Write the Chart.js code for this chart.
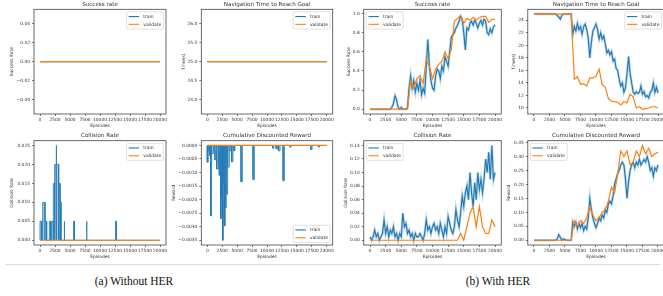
<!DOCTYPE html>
<html>
<head>
<meta charset="utf-8">
<title>Without HER / With HER</title>
<script src="https://cdn.jsdelivr.net/npm/chart.js@4.4.1/dist/chart.umd.min.js"></script>
<style>
  html, body { margin: 0; padding: 0; background: #fff; }
  #page { position: relative; width: 663px; height: 296px; overflow: hidden; }
  #page canvas { position: absolute; }
  .rule { position: absolute; left: 5px; top: 264px; width: 655px; height: 1px; background: #dcdcdc; }
  .caption {
    position: absolute; top: 275px; transform: translateX(-50%); white-space: nowrap;
    font-family: "Liberation Serif", serif; font-size: 11.5px; color: #111;
  }
</style>
</head>
<body>
<div id="page">
  <div class="rule"></div>
  <div class="caption" style="left:134px">(a) Without HER</div>
  <div class="caption" style="left:498px">(b) With HER</div>
</div>
<script>
/**
 * Episode grids and tick values.
 */
const flatEpisodes = [0, 20000];
const trainEpisodes = [
    0, 250, 500, 750, 1000, 1250, 1500, 1750, 2000, 2250,
    2500, 2750, 3000, 3250, 3500, 3750, 4000, 4250, 4500, 4750,
    5000, 5250, 5500, 5750, 6000, 6250, 6500, 6750, 7000, 7250,
    7500, 7750, 8000, 8250, 8500, 8750, 9000, 9250, 9500, 9750,
    10000, 10250, 10500, 10750, 11000, 11250, 11500, 11750, 12000, 12250,
    12500, 12750, 13000, 13250, 13500, 13750, 14000, 14250, 14500, 14750,
    15000, 15250, 15500, 15750, 16000, 16250, 16500, 16750, 17000, 17250,
    17500, 17750, 18000, 18250, 18500, 18750, 19000, 19250, 19500, 19750,
    20000
];
const validateEpisodes = [
    0, 500, 1000, 1500, 2000, 2500, 3000, 3500, 4000, 4500,
    5000, 5500, 6000, 6500, 7000, 7500, 8000, 8500, 9000, 9500,
    10000, 10500, 11000, 11500, 12000, 12500, 13000, 13500, 14000, 14500,
    15000, 15500, 16000, 16500, 17000, 17500, 18000, 18500, 19000, 19500,
    20000
];
const episodeTicks = [0, 2500, 5000, 7500, 10000, 12500, 15000, 17500, 20000];

/**
 * (a) Without HER.
 */
const noHerSuccessTrain = [0, 0];
const noHerSuccessValidate = [0, 0];
const noHerTimeTrain = [25, 25];
const noHerTimeValidate = [25, 25];
const noHerCollisionValidate = [0, 0];
const noHerRewardValidate = [0, 0];

// Train collision rate: short bursts (start episode, end episode, value)
const noHerCollisionStart = [0, 445, 835, 1555, 1945, 2220, 2445, 2670, 2780, 3110, 3335, 4000, 5610, 7720, 12610];
const noHerCollisionEnd = [280, 835, 1110, 1780, 2220, 2445, 2670, 2780, 3110, 3335, 3500, 4110, 5720, 7830, 12720];
const noHerCollisionValue = [0.005, 0.01, 0.005, 0.005, 0.005, 0.015, 0.02, 0.025, 0.02, 0.015, 0.01, 0.005, 0.005, 0.005, 0.005];

// Train reward: short dips (start episode, end episode, value)
const noHerRewardStart = [
    0, 168, 391, 559, 727, 1062, 1286, 1565, 1845, 2012,
    2236, 2404, 2571, 2683, 2851, 3019, 3186, 3410, 3689, 4081,
    4472, 5646, 7658, 10956, 11515, 11907, 12689, 13863, 17329, 18615
];
const noHerRewardEnd = [
    168, 391, 559, 727, 1062, 1286, 1565, 1845, 2012, 2236,
    2404, 2571, 2683, 2851, 3019, 3186, 3410, 3689, 3969, 4304,
    4640, 5870, 7882, 11124, 11739, 12186, 12913, 14031, 17553, 18782
];
const noHerRewardValue = [
    -0.00062, -0.00019, -0.00037, -0.0026, -0.0003, -0.0002, -0.00053, -0.00087, -0.00074, -0.0011,
    -0.0027, -0.0019, -0.0035, -0.0014, -0.00297, -0.00229, -0.0018, -0.0008, -0.0002, -0.0006,
    -0.0002, -0.00134, -0.00126, -0.0001, -0.00012, -0.0002, -0.0013, -0.00006, -0.00015, -0.00006
];

/**
 * (b) With HER.
 */
const herSuccessTrain = [
    0, 0, 0, 0, 0, 0, 0, 0, 0, 0,
    0, 0, 0, 0, 0.02, 0.06, 0.14, 0.1, 0.02, 0,
    0.02, 0, 0, 0, 0.02, 0.22, 0.35, 0.22, 0.3, 0.18,
    0.27, 0.2, 0.3, 0.15, 0.22, 0.17, 0.45, 0.73, 0.45, 0.3,
    0.22, 0.2, 0.35, 0.42, 0.4, 0.32, 0.45, 0.4, 0.55, 0.5,
    0.45, 0.6, 0.75, 0.78, 0.8, 0.85, 0.88, 0.92, 0.97, 0.94,
    0.8, 0.62, 0.85, 0.83, 0.9, 0.92, 0.88, 0.93, 0.9, 0.85,
    0.9, 0.93, 0.88, 0.94, 0.92, 0.8, 0.78, 0.84, 0.8, 0.86,
    0.88
];
const herSuccessValidate = [
    0, 0, 0, 0, 0, 0, 0, 0, 0, 0,
    0, 0, 0, 0.3, 0.22, 0.32, 0.35, 0.27, 0.52, 0.45,
    0.32, 0.42, 0.47, 0.5, 0.6, 0.53, 0.62, 0.92, 0.95, 0.98,
    0.9, 0.95, 0.93, 0.96, 0.93, 0.96, 0.97, 0.97, 0.91, 0.94,
    0.94
];
const herTimeTrain = [
    25, 25, 25, 25, 25, 25, 25, 25, 25, 25,
    25, 25, 25, 25, 25, 24.8, 24.5, 24.2, 24.8, 25,
    25, 25, 25, 25, 25, 21.7, 23, 22.3, 23.5, 22.5,
    23, 21.8, 23, 23.4, 22.5, 21.2, 18, 20.5, 22.3, 22.8,
    23.4, 22.5, 21, 22, 21, 21.5, 20.2, 18.8, 19.2, 18.5,
    19, 17.5, 17.8, 16.3, 16, 14.5, 13.5, 14, 12.5, 13.2,
    15.5, 18.2, 15.5, 14, 12.5, 12.2, 12.6, 12.3, 12.5, 13.5,
    12.2, 12.6, 11.8, 12, 11.6, 12.5, 12.8, 14, 12.5, 13.3,
    12.4
];
const herTimeValidate = [
    25, 25, 25, 25, 25, 25, 25, 25, 25, 25,
    25, 25, 25, 14.6, 15.0, 13.8, 13.9, 13.5, 14.8, 14.8,
    15.1, 16.2, 13.7, 13.3, 11.5, 11.1, 11.0, 10.9, 10.5, 11.0,
    10.8, 12.2, 11.8, 10.0, 10.2, 9.8, 9.9, 10.0, 10.2, 10.2,
    10.0
];
const herCollisionTrain = [
    0.005, 0, 0.005, 0.015, 0.005, 0.01, 0, 0.005, 0.01, 0.03,
    0.01, 0.02, 0.005, 0.015, 0.01, 0.02, 0.005, 0.01, 0, 0.01,
    0.005, 0.04, 0.02, 0.025, 0.01, 0.015, 0.005, 0.01, 0, 0.01,
    0.005, 0.005, 0.01, 0.005, 0, 0.01, 0.03, 0.015, 0.02, 0.01,
    0.02, 0.025, 0.015, 0.02, 0.01, 0.025, 0.015, 0.005, 0.02, 0.01,
    0.035, 0.025, 0.015, 0.01, 0.02, 0.045, 0.03, 0.02, 0.04, 0.065,
    0.05, 0.07, 0.08, 0.06, 0.1, 0.07, 0.05, 0.085, 0.06, 0.1,
    0.075, 0.09, 0.07, 0.09, 0.12, 0.1, 0.13, 0.09, 0.14, 0.09,
    0.1
];
const herCollisionValidate = [
    0, 0, 0, 0, 0, 0, 0, 0, 0, 0,
    0, 0, 0, 0, 0, 0, 0, 0, 0, 0,
    0, 0, 0, 0, 0, 0, 0, 0, 0, 0.01,
    0, 0.02, 0.04, 0.05, 0.02, 0.05, 0.02, 0.01, 0.01, 0.03,
    0.02
];
const herRewardTrain = [
    0, 0, 0, 0, 0, 0, 0, 0, 0, 0,
    0, 0, 0, 0, 0, 0.005, 0.02, 0.01, 0, 0.005,
    0.003, 0, 0, 0, 0, 0.065, 0.05, 0.065, 0.04, 0.06,
    0.045, 0.06, 0.035, 0.05, 0.04, 0.08, 0.15, 0.11, 0.08, 0.06,
    0.045, 0.06, 0.08, 0.07, 0.09, 0.08, 0.11, 0.1, 0.13, 0.14,
    0.13, 0.16, 0.2, 0.22, 0.24, 0.25, 0.27, 0.28, 0.27, 0.22,
    0.15, 0.21, 0.25, 0.27, 0.28, 0.26, 0.28, 0.27, 0.29, 0.27,
    0.28, 0.29, 0.28, 0.3, 0.28, 0.25, 0.26, 0.23, 0.26, 0.25,
    0.27
];
const herRewardValidate = [
    0, 0, 0, 0, 0, 0, 0, 0, 0, 0,
    0, 0, 0, 0.07, 0.05, 0.07, 0.06, 0.08, 0.12, 0.09,
    0.07, 0.08, 0.1, 0.11, 0.14, 0.19, 0.17, 0.24, 0.32, 0.3,
    0.32, 0.27, 0.28, 0.32, 0.3, 0.34, 0.31, 0.33, 0.3, 0.31,
    0.315
];

/**
 * Y tick values.
 */
const noHerSuccessTicks = [-0.04, -0.02, 0, 0.02, 0.04];
const noHerTimeTicks = [24, 24.5, 25, 25.5, 26];
const noHerCollisionTicks = [0, 0.005, 0.01, 0.015, 0.02, 0.025];
const noHerRewardTicks = [0, -0.0005, -0.001, -0.0015, -0.002, -0.0025, -0.003, -0.0035];
const herSuccessTicks = [0, 0.2, 0.4, 0.6, 0.8, 1.0];
const herTimeTicks = [10, 12, 14, 16, 18, 20, 22, 24];
const herCollisionTicks = [0, 0.02, 0.04, 0.06, 0.08, 0.1, 0.12, 0.14];
const herRewardTicks = [0, 0.05, 0.1, 0.15, 0.2, 0.25, 0.3, 0.35];

/**
 * Look.
 */
const TRAIN_COLOR = '#1f77b4';
const TRAIN_BAND = 'rgba(31, 119, 180, 0.3)';
const TRAIN_FILL = 'rgba(31, 119, 180, 0.38)';
const VALIDATE_COLOR = '#ff7f0e';
const TEXT_COLOR = '#333';
const SPINE_COLOR = '#444';
const FONT_FAMILY = '"DejaVu Sans", sans-serif';
const TITLE_SIZE = 5.6;
const AXIS_SIZE = 4.4;
const TICK_SIZE = 4.4;
const LEGEND_SIZE = 4.5;
const TITLE_BLOCK = 10;
const X_SCALE_H = 15;
const X_TITLE_GAP = 11.8;
const RIGHT_PAD = 9;

function points(xs, ys) {
    return xs.map((x, i) => ({x: x, y: ys[i]}));
}

/**
 * Turn bursts into a line that goes up and back down to zero.
 */
function burstPoints(starts, ends, values) {
    const out = [{x: 0, y: 0}];
    starts.forEach((s, i) => {
        out.push({x: s, y: 0}, {x: s, y: values[i]}, {x: ends[i], y: values[i]}, {x: ends[i], y: 0});
    });
    out.push({x: 20000, y: 0});
    return out;
}

/**
 * Full axes box drawn over the lines, like matplotlib spines.
 */
const spinesPlugin = {
    id: 'spines',
    afterDatasetsDraw(chart) {
        const {ctx, chartArea: a} = chart;
        ctx.save();
        ctx.strokeStyle = SPINE_COLOR;
        ctx.lineWidth = 0.8;
        ctx.strokeRect(a.left, a.top, a.right - a.left, a.bottom - a.top);
        ctx.restore();
    }
};

/**
 * Legend drawn inside the axes.
 */
const innerLegendPlugin = {
    id: 'innerLegend',
    afterDraw(chart, args, opts) {
        const {ctx, chartArea: a} = chart;
        const items = chart.data.datasets.filter(d => d.label);
        const em = 5.2;
        const pad = 0.4 * em, handle = 2 * em, gap = 0.8 * em, spacing = 0.5 * em, inset = 0.5 * em;
        const rowH = LEGEND_SIZE * 1.15;
        ctx.save();
        ctx.font = `${LEGEND_SIZE}px ${FONT_FAMILY}`;
        const textW = Math.max(...items.map(d => ctx.measureText(d.label).width));
        const w = pad * 2 + handle + gap + textW;
        const h = pad * 2 + items.length * rowH + (items.length - 1) * spacing;
        const x = opts.corner.includes('right') ? a.right - inset - w : a.left + inset;
        const y = opts.corner.includes('lower') ? a.bottom - inset - h : a.top + inset;
        ctx.beginPath();
        ctx.roundRect(x, y, w, h, 1);
        ctx.fillStyle = 'rgba(255, 255, 255, 0.8)';
        ctx.fill();
        ctx.strokeStyle = '#cccccc';
        ctx.lineWidth = 0.6;
        ctx.stroke();
        items.forEach((d, i) => {
            const cy = y + pad + i * (rowH + spacing) + rowH / 2;
            ctx.beginPath();
            ctx.moveTo(x + pad, cy);
            ctx.lineTo(x + pad + handle, cy);
            ctx.strokeStyle = d.borderColor;
            ctx.lineWidth = 1.1;
            ctx.stroke();
            ctx.fillStyle = TEXT_COLOR;
            ctx.textBaseline = 'middle';
            ctx.textAlign = 'left';
            ctx.fillText(d.label, x + pad + handle + gap, cy);
        });
        ctx.restore();
    }
};

/**
 * The eight panels.
 */
const panels = [
    {
        box: [34, 9.3, 132, 104.7], titleGap: 4.8, yTitleGap: 22,
        title: 'Success rate', yTitle: 'Success Rate',
        yRange: [-0.055, 0.055], yTicks: noHerSuccessTicks, decimals: 2, legend: 'upper right',
        train: points(flatEpisodes, noHerSuccessTrain), validate: points(flatEpisodes, noHerSuccessValidate), trainStyle: 'plain'
    },
    {
        box: [201.3, 9.3, 131.4, 104.7], titleGap: 4.8, yTitleGap: 17.7,
        title: 'Navigation Time to Reach Goal', yTitle: 'Time(s)',
        yRange: [23.625, 26.375], yTicks: noHerTimeTicks, decimals: 1, legend: 'upper right',
        train: points(flatEpisodes, noHerTimeTrain), validate: points(flatEpisodes, noHerTimeValidate), trainStyle: 'plain'
    },
    {
        box: [363.75, 9.3, 137.5, 104.7], titleGap: 4.8, yTitleGap: 15.2,
        title: 'Success rate', yTitle: 'Success Rate',
        yRange: [-0.05, 1.045], yTicks: herSuccessTicks, decimals: 1, legend: 'upper left',
        train: points(trainEpisodes, herSuccessTrain), validate: points(validateEpisodes, herSuccessValidate), trainStyle: 'band'
    },
    {
        box: [527.8, 9.3, 136.4, 104.7], titleGap: 4.8, yTitleGap: 14.2,
        title: 'Navigation Time to Reach Goal', yTitle: 'Time(s)',
        yRange: [9.04, 25.76], yTicks: herTimeTicks, decimals: 0, legend: 'upper right',
        train: points(trainEpisodes, herTimeTrain), validate: points(validateEpisodes, herTimeValidate), trainStyle: 'band'
    },
    {
        box: [34, 140.7, 132, 104.3], titleGap: 5.6, yTitleGap: 22,
        title: 'Collision Rate', yTitle: 'Collision Rate',
        yRange: [-0.00125, 0.02625], yTicks: noHerCollisionTicks, decimals: 3, legend: 'upper right',
        train: burstPoints(noHerCollisionStart, noHerCollisionEnd, noHerCollisionValue),
        validate: points(flatEpisodes, noHerCollisionValidate), trainStyle: 'fill'
    },
    {
        box: [201.3, 140.7, 131.4, 104.3], titleGap: 5.6, yTitleGap: 27.7,
        title: 'Cumulative Discounted Reward', yTitle: 'Reward',
        yRange: [-0.003675, 0.000175], yTicks: noHerRewardTicks, decimals: 4, legend: 'lower right',
        train: burstPoints(noHerRewardStart, noHerRewardEnd, noHerRewardValue),
        validate: points(flatEpisodes, noHerRewardValidate), trainStyle: 'fill'
    },
    {
        box: [363.75, 140.7, 137.5, 104.3], titleGap: 5.6, yTitleGap: 17.8,
        title: 'Collision Rate', yTitle: 'Collision Rate',
        yRange: [-0.007, 0.147], yTicks: herCollisionTicks, decimals: 2, legend: 'upper left',
        train: points(trainEpisodes, herCollisionTrain), validate: points(validateEpisodes, herCollisionValidate), trainStyle: 'band'
    },
    {
        box: [527.8, 140.7, 136.4, 104.3], titleGap: 5.6, yTitleGap: 18.5,
        title: 'Cumulative Discounted Reward', yTitle: 'Reward',
        yRange: [-0.017, 0.357], yTicks: herRewardTicks, decimals: 2, legend: 'upper left',
        train: points(trainEpisodes, herRewardTrain), validate: points(validateEpisodes, herRewardValidate), trainStyle: 'band'
    }
];

function buildDatasets(panel) {
    const train = {
        label: 'train', data: panel.train, borderColor: TRAIN_COLOR,
        borderWidth: panel.trainStyle === 'fill' ? 0.8 : 1.1, pointRadius: 0, order: 1,
        fill: panel.trainStyle === 'fill' ? 'origin' : false,
        backgroundColor: TRAIN_FILL
    };
    const validate = {
        label: 'validate', data: panel.validate, borderColor: VALIDATE_COLOR,
        borderWidth: 1.2, pointRadius: 0, order: 0
    };
    const datasets = [train, validate];
    if (panel.trainStyle === 'band') {
        datasets.push({
            data: panel.train, borderColor: TRAIN_BAND, borderWidth: 2.6, pointRadius: 0, order: 2
        });
    }
    return datasets;
}

function buildChart(panel) {
    const [bx, by, bw, bh] = panel.box;
    const axisLine = AXIS_SIZE * 1.2;
    const titleLine = TITLE_SIZE * 1.2;
    const scaleW = panel.yTitleGap + axisLine / 2;
    const rawLeft = bx - scaleW;
    const rawTop = by - TITLE_BLOCK;
    const left = Math.floor(rawLeft);
    const top = Math.floor(rawTop);
    const padLeft = rawLeft - left;
    const padTop = rawTop - top;
    const width = Math.ceil(padLeft + scaleW + bw + RIGHT_PAD);
    const height = Math.ceil(padTop + TITLE_BLOCK + bh + X_SCALE_H);

    const canvas = document.createElement('canvas');
    canvas.width = width;
    canvas.height = height;
    canvas.style.left = left + 'px';
    canvas.style.top = top + 'px';
    canvas.style.width = width + 'px';
    canvas.style.height = height + 'px';
    document.getElementById('page').appendChild(canvas);

    const tickFont = {family: FONT_FAMILY, size: TICK_SIZE};
    const axisFont = {family: FONT_FAMILY, size: AXIS_SIZE};
    const grid = {drawOnChartArea: false, drawTicks: true, tickLength: 2, color: SPINE_COLOR, lineWidth: 0.7};

    return new Chart(canvas.getContext('2d'), {
        type: 'line',
        data: {datasets: buildDatasets(panel)},
        plugins: [spinesPlugin, innerLegendPlugin],
        options: {
            responsive: false,
            animation: false,
            devicePixelRatio: 1,
            layout: {
                padding: {
                    left: padLeft,
                    top: padTop,
                    right: width - padLeft - scaleW - bw,
                    bottom: height - padTop - TITLE_BLOCK - bh - X_SCALE_H
                }
            },
            elements: {line: {tension: 0}},
            plugins: {
                legend: {display: false},
                tooltip: {enabled: false},
                title: {
                    display: true, text: panel.title, fullSize: false, color: TEXT_COLOR,
                    font: {family: FONT_FAMILY, size: TITLE_SIZE, weight: 'normal'},
                    padding: {top: TITLE_BLOCK - panel.titleGap - titleLine / 2, bottom: panel.titleGap - titleLine / 2}
                },
                innerLegend: {corner: panel.legend}
            },
            scales: {
                x: {
                    type: 'linear', min: -1000, max: 21000,
                    afterBuildTicks: scale => { scale.ticks = episodeTicks.map(v => ({value: v})); },
                    afterFit: scale => { scale.height = X_SCALE_H; },
                    ticks: {
                        autoSkip: false, maxRotation: 0, minRotation: 0, padding: 1,
                        font: tickFont, color: TEXT_COLOR, callback: v => String(v)
                    },
                    grid: grid,
                    border: {display: false},
                    title: {
                        display: true, text: 'Episodes', font: axisFont, color: TEXT_COLOR,
                        padding: {top: 0, bottom: X_SCALE_H - X_TITLE_GAP - axisLine / 2}
                    }
                },
                y: {
                    type: 'linear', min: panel.yRange[0], max: panel.yRange[1],
                    afterBuildTicks: scale => { scale.ticks = panel.yTicks.map(v => ({value: v})); },
                    afterFit: scale => { scale.width = scaleW; },
                    ticks: {
                        autoSkip: false, padding: 2, font: tickFont, color: TEXT_COLOR,
                        callback: v => v.toFixed(panel.decimals).replace('-', '\u2212')
                    },
                    grid: grid,
                    border: {display: false},
                    title: {
                        display: true, text: panel.yTitle, font: axisFont, color: TEXT_COLOR,
                        padding: {top: 0, bottom: 0}
                    }
                }
            }
        }
    });
}

document.addEventListener('DOMContentLoaded', function() {
    panels.forEach(buildChart);
});
</script>
</body>
</html>
